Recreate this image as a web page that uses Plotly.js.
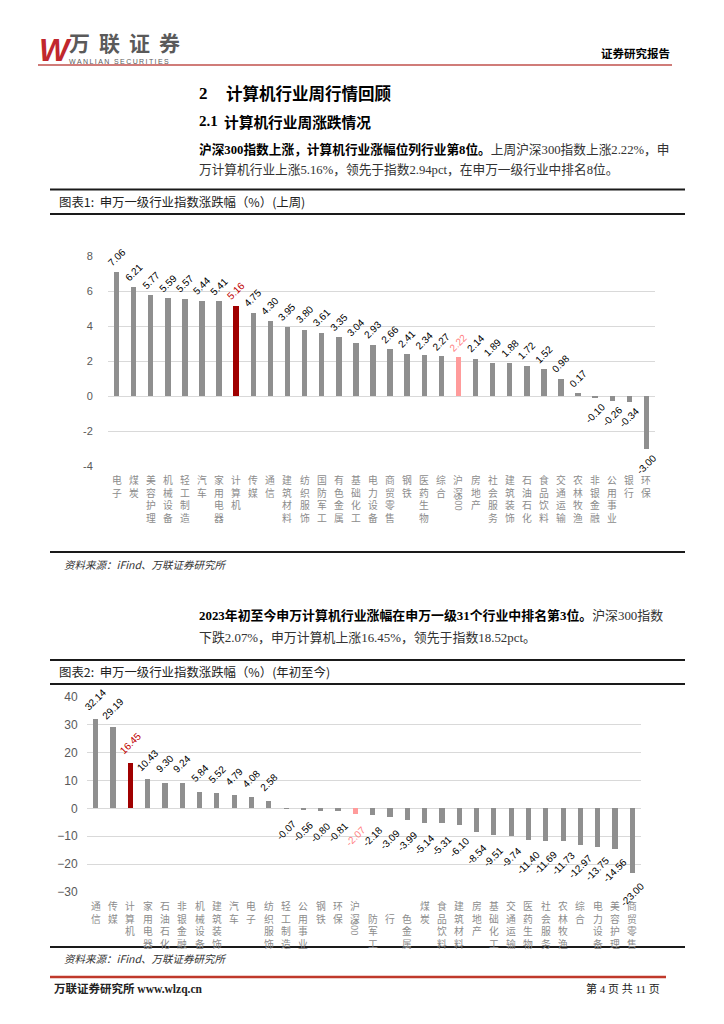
<!DOCTYPE html>
<html><head><meta charset="utf-8">
<script src="https://cdn.plot.ly/plotly-3.0.1.min.js"></script>
<style>html,body{margin:0;padding:0;background:#fff;} #chart{width:724px;height:1024px;}</style>
</head><body><div id="chart"></div>
<script>
// ---------- data ----------
const weekCategories = ['电子','煤炭','美容护理','机械设备','轻工制造','汽车','家用电器','计算机','传媒','通信','建筑材料','纺织服饰','国防军工','有色金属','基础化工','电力设备','商贸零售','钢铁','医药生物','综合','沪深300','房地产','社会服务','建筑装饰','石油石化','食品饮料','交通运输','农林牧渔','非银金融','公用事业','银行','环保'];
const weekValues = [7.06,6.21,5.77,5.59,5.57,5.44,5.41,5.16,4.75,4.30,3.95,3.80,3.61,3.35,3.04,2.93,2.66,2.41,2.34,2.27,2.22,2.14,1.89,1.88,1.72,1.52,0.98,0.17,-0.10,-0.26,-0.34,-3.00];
const weekTickVals = [-4,-2,0,2,4,6,8];
const weekTickText = ['-4','-2','0','2','4','6','8'];

const ytdCategories = ['通信','传媒','计算机','家用电器','石油石化','非银金融','机械设备','建筑装饰','汽车','电子','纺织服饰','轻工制造','公用事业','钢铁','环保','沪深300','国防军工','银行','有色金属','煤炭','食品饮料','建筑材料','房地产','基础化工','交通运输','医药生物','社会服务','农林牧渔','综合','电力设备','美容护理','商贸零售'];
const ytdValues = [32.14,29.19,16.45,10.43,9.30,9.24,5.84,5.52,4.79,4.08,2.58,-0.07,-0.56,-0.80,-0.81,-2.07,-2.18,-3.09,-3.99,-5.14,-5.31,-6.10,-8.54,-9.51,-9.74,-11.40,-11.69,-11.73,-12.97,-13.75,-14.56,-23.00];
// category labels as they appear under chart 2
const ytdTickLabels = ['通信','传媒','计算机','家用电器','石油石化','非银金融','机械设备','建筑装饰','汽车','电子','纺织服饰','轻工制造','公用事业','钢铁','环保','沪深300','\u3000防军工','\u3000行','\u3000色金属','煤炭','食品饮料','建筑材料','房地产','基础化工','交通运输','医药生物','社会服务','农林牧渔','综合','电力设备','美容护理','商贸零售'];
const ytdTickVals = [-30,-20,-10,0,10,20,30,40];

const HIGHLIGHT = '计算机', INDEX = '沪深300';

// ---------- helpers ----------
const W = 724, H = 1024;
const px = x => x / W, py = y => 1 - y / H;
const CJK = 'Noto Sans CJK SC';
const SERIF = 'Liberation Serif, Noto Sans CJK SC';
const GRAY = '#8f8f8f', RED = '#a00000', PINK = '#ff9b9b';
const barColor = c => c === HIGHLIGHT ? RED : (c === INDEX ? PINK : GRAY);
const labelColor = c => c === HIGHLIGHT ? '#c00000' : (c === INDEX ? '#ff8080' : '#000000');

const annotations = [];
const shapes = [];
function txt(text, x, y, o) {
  o = o || {};
  annotations.push({
    text: text, xref: 'paper', yref: 'paper', x: px(x), y: py(y),
    xanchor: o.xanchor || 'left', yanchor: o.yanchor || 'middle', showarrow: false,
    font: {family: o.family || CJK, size: o.size || 12, color: o.color || '#000', weight: o.weight || 'normal', style: o.style || 'normal'}
  });
}
function hline(x0, x1, y, color, width) {
  shapes.push({type: 'line', xref: 'paper', yref: 'paper', x0: px(x0), x1: px(x1), y0: py(y), y1: py(y), line: {color: color, width: width}});
}

function addChartLabels(cats, vals, tickLabels, xr, yr, catTopPx, tick300Px, posShift, negShift) {
  cats.forEach((c, i) => {
    const v = vals[i];
    annotations.push({
      text: v.toFixed(2), xref: xr, yref: yr, x: c, y: v, textangle: -45,
      xanchor: 'center', yanchor: 'middle', yshift: v >= 0 ? posShift : negShift, showarrow: false,
      font: {family: 'Liberation Sans', size: 10, color: labelColor(c)}
    });
    const lab = tickLabels[i];
    if (lab === INDEX) {
      annotations.push({text: '沪<br>深', xref: xr, yref: 'paper', x: c, y: py(catTopPx), xanchor: 'center', yanchor: 'top', showarrow: false,
        font: {family: CJK, size: 9.8, color: '#8c8c8c'}});
      annotations.push({text: '300', xref: xr, yref: 'paper', x: c, y: py(tick300Px), xanchor: 'center', yanchor: 'middle', textangle: 90, showarrow: false,
        font: {family: 'Liberation Serif', size: 10.5, color: '#8c8c8c'}});
    } else {
      annotations.push({text: Array.from(lab).join('<br>'), xref: xr, yref: 'paper', x: c, y: py(catTopPx), xanchor: 'center', yanchor: 'top', showarrow: false,
        font: {family: CJK, size: 9.8, color: '#8c8c8c'}});
    }
  });
}

// ---------- page header ----------
txt('<b><i>W</i></b>', 37, 50, {family: 'Liberation Sans', size: 32, color: '#c1272d'});
Array.from('万联证券').forEach((ch, i) => txt('<b>' + ch + '</b>', 67 + i * 30, 41.5, {size: 21, color: '#5a5a5a'}));
txt(Array.from('WANLIAN SECURITIES').join('\u2009'), 67, 61, {family: 'Liberation Sans', size: 7, color: '#5a5a5a'});
txt('<b>证券研究报告</b>', 672, 53, {xanchor: 'right', size: 11.5});
hline(38, 672, 65, '#c0504d', 1.5);

// ---------- body text ----------
txt('<b>2</b>', 197, 93, {family: 'Liberation Serif', size: 17});
txt('<b>计算机行业周行情回顾</b>', 224, 93, {size: 16.5});
txt('<b>2.1</b>', 197, 121, {family: 'Liberation Serif', size: 15});
txt('<b>计算机行业周涨跌情况</b>', 222, 121, {size: 14.7});
txt('<b>沪深300指数上涨，计算机行业涨幅位列行业第8位。</b><span style="color:#333">上周沪深300指数上涨2.22%，申</span>', 197, 149, {family: SERIF, size: 12.7});
txt('万计算机行业上涨5.16%，领先于指数2.94pct，在申万一级行业中排名8位。', 197, 169, {family: SERIF, size: 12.7, color: '#333'});

hline(50, 685, 189.5, '#1a1a1a', 2);
txt('图表1:  申万一级行业指数涨跌幅（%）(上周)', 57, 201.5, {size: 12.4, color: '#222'});
hline(50, 685, 214, '#1a1a1a', 2);
hline(50, 685, 552, '#1a1a1a', 2);
txt('资料来源：iFind、万联证券研究所', 62, 564, {size: 10.5, style: 'italic', color: '#333'});

txt('<b>2023年初至今申万计算机行业涨幅在申万一级31个行业中排名第3位。</b><span style="color:#333">沪深300指数</span>', 197, 615, {family: SERIF, size: 12.9});
txt('下跌2.07%，申万计算机上涨16.45%，领先于指数18.52pct。', 197, 637, {family: SERIF, size: 12.9, color: '#333'});

hline(50, 685, 660, '#1a1a1a', 2);
txt('图表2:  申万一级行业指数涨跌幅（%）(年初至今)', 57, 672, {size: 12.4, color: '#222'});
hline(50, 685, 684, '#1a1a1a', 2);
hline(50, 685, 947, '#1a1a1a', 2);
txt('资料来源：iFind、万联证券研究所', 62, 958, {size: 10.5, style: 'italic', color: '#333'});

hline(50, 666, 977, '#c0392b', 2.5);
txt('<b>万联证券研究所 www.wlzq.cn</b>', 52, 989, {family: SERIF, size: 11.5, color: '#222'});
txt('第 4 页 共 11 页', 662, 988, {xanchor: 'right', family: SERIF, size: 11, color: '#222'});

// ---------- charts ----------
addChartLabels(weekCategories, weekValues, weekCategories, 'x', 'y', 471, 503.5, 15, -16);
addChartLabels(ytdCategories, ytdValues, ytdTickLabels, 'x2', 'y2', 897, 928, 19, -22);

const traces = [
  {type: 'bar', x: weekCategories, y: weekValues, xaxis: 'x', yaxis: 'y', width: 0.32,
   marker: {color: weekCategories.map(barColor)}, hoverinfo: 'none'},
  {type: 'bar', x: ytdCategories, y: ytdValues, xaxis: 'x2', yaxis: 'y2', width: 0.3,
   marker: {color: ytdCategories.map(barColor)}, hoverinfo: 'none'}
];

const xCommon = {type: 'category', range: [-0.5, 31.5], showticklabels: false, showgrid: false, zeroline: false, showline: false, ticks: '', fixedrange: true};
const layout = {
  width: W, height: H, margin: {l: 0, r: 0, t: 0, b: 0}, paper_bgcolor: '#fff', plot_bgcolor: 'rgba(0,0,0,0)',
  showlegend: false, bargap: 0,
  xaxis: Object.assign({}, xCommon, {domain: [px(108), px(655)], anchor: 'y'}),
  yaxis: {domain: [py(466), py(256)], anchor: 'x', range: [-4, 8], tickvals: weekTickVals, ticktext: weekTickText,
          gridcolor: '#d9d9d9', gridwidth: 1, zeroline: false, showline: false, ticks: 'outside', ticklen: 12, tickcolor: 'rgba(0,0,0,0)',
          tickfont: {family: 'Liberation Sans', size: 11, color: '#595959'}, fixedrange: true},
  xaxis2: Object.assign({}, xCommon, {domain: [px(87), px(641)], anchor: 'y2'}),
  yaxis2: {domain: [py(892), py(697)], anchor: 'x2', range: [-30, 40], tickvals: ytdTickVals,
          gridcolor: '#d9d9d9', gridwidth: 1, zeroline: false, showline: false, ticks: 'outside', ticklen: 6, tickcolor: 'rgba(0,0,0,0)',
          tickfont: {family: 'Liberation Sans', size: 12, color: '#595959'}, fixedrange: true},
  annotations: annotations, shapes: shapes
};
Plotly.newPlot('chart', traces, layout, {staticPlot: true, displayModeBar: false});
</script></body></html>
